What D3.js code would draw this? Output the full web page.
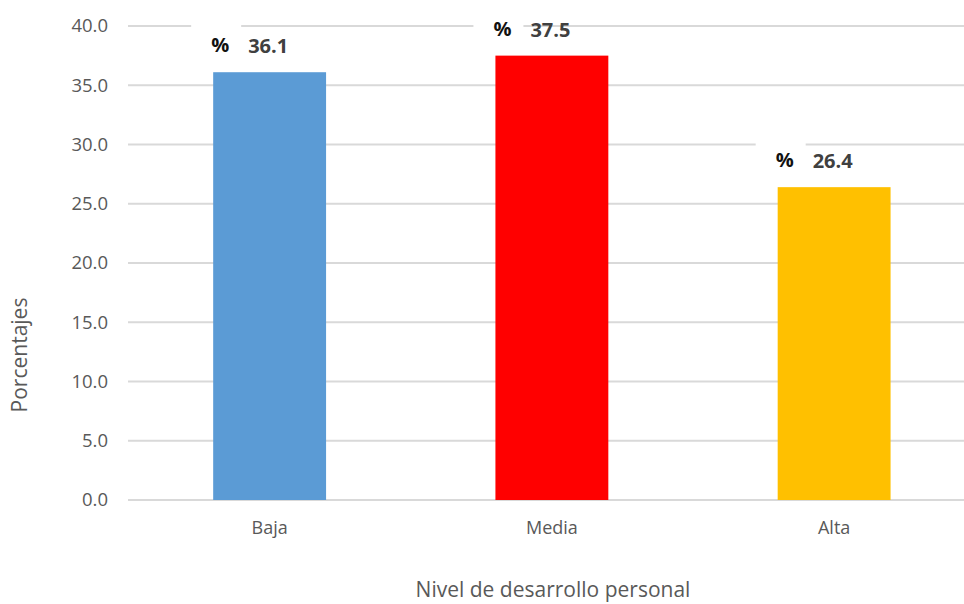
<!DOCTYPE html>
<html>
<head>
<meta charset="utf-8">
<script src="https://cdn.jsdelivr.net/npm/d3@7"></script>
<style>
  body { margin: 0; background: #fff; }
  svg text { font-family: "Open Sans", sans-serif; }
</style>
</head>
<body>
<svg width="964" height="604"></svg>
<script>
// data
var categories = ['Baja', 'Media', 'Alta'];
var values = [36.1, 37.5, 26.4];
var colors = ['#5B9BD5', '#FF0000', '#FFC000'];
var yTicks = [0, 5, 10, 15, 20, 25, 30, 35, 40];

var data = categories.map((c, i) => ({'cat': c, 'v': values[i], 'col': colors[i]}));

var svg = d3.select('svg');

// plot area runs off the right edge of the picture
var x = d3.scaleBand()
    .domain(categories)
    .range([128.5, 975.25])
    .paddingInner(0.6)
    .paddingOuter(0.3);

var y = d3.scaleLinear()
    .domain([0, 40])
    .range([500, 26]);

// gridlines
svg.append('g')
    .selectAll('line')
    .data(yTicks)
    .enter()
    .append('line')
    .attr('x1', 128)
    .attr('x2', 964)
    .attr('y1', d => y(d))
    .attr('y2', d => y(d))
    .attr('stroke', '#d9d9d9')
    .attr('stroke-width', 2);

// y tick labels
var yAxis = svg.append('g')
    .attr('transform', 'translate(128,0)')
    .call(d3.axisLeft(y).tickValues(yTicks).tickFormat(d3.format('.1f')).tickSize(0).tickPadding(20));
yAxis.select('.domain').remove();
yAxis.selectAll('text')
    .style('font-size', '18.5px')
    .attr('fill', '#595959')
    .style('font-family', '"Open Sans", sans-serif');

// bars
svg.append('g')
    .selectAll('rect')
    .data(data)
    .enter()
    .append('rect')
    .attr('x', d => x(d.cat))
    .attr('width', x.bandwidth())
    .attr('y', d => y(d.v))
    .attr('height', d => y(0) - y(d.v))
    .attr('fill', d => d.col);

// x category labels
var xAxis = svg.append('g')
    .attr('transform', 'translate(0,500)')
    .call(d3.axisBottom(x).tickSize(0).tickPadding(21));
xAxis.select('.domain').remove();
xAxis.selectAll('text')
    .style('font-size', '18px')
    .attr('fill', '#595959')
    .style('font-family', '"Open Sans", sans-serif');

// value labels: "%" in a white box that cuts the gridline, then the value
var lbl = svg.append('g')
    .selectAll('g')
    .data(data)
    .enter()
    .append('g')
    .attr('transform', d => `translate(${x(d.cat)},${y(d.v)})`);

lbl.append('rect')
    .attr('x', -22)
    .attr('y', -50)
    .attr('width', 50)
    .attr('height', 42)
    .attr('fill', '#fff');

lbl.append('text')
    .attr('x', -2)
    .attr('y', -20)
    .text('%')
    .style('font-size', '20px')
    .style('font-weight', 'bold')
    .attr('fill', '#111');

lbl.append('text')
    .attr('x', 35)
    .attr('y', -19)
    .text(d => d3.format('.1f')(d.v))
    .style('font-size', '20px')
    .style('font-weight', 'bold')
    .attr('fill', '#404040');

// axis titles
svg.append('text')
    .attr('transform', 'translate(27,355) rotate(-90)')
    .attr('text-anchor', 'middle')
    .text('Porcentajes')
    .style('font-size', '21px')
    .attr('fill', '#595959');

svg.append('text')
    .attr('x', 553)
    .attr('y', 597)
    .attr('text-anchor', 'middle')
    .text('Nivel de desarrollo personal')
    .style('font-size', '21px')
    .attr('fill', '#595959');
</script>
</body>
</html>
